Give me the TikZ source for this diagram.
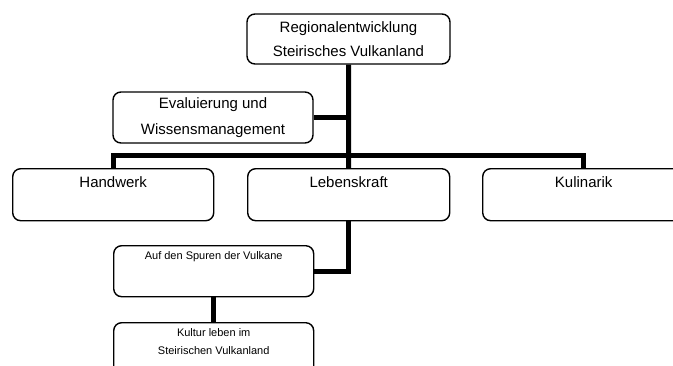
\documentclass[tikz,border=0pt]{standalone}
\usepackage{fontspec}
\setmainfont{Liberation Sans}
\begin{document}
\begin{tikzpicture}[x=1pt,y=-1pt,
  box/.style={draw, line width=1.4pt, rounded corners=8pt, fill=white, inner sep=0pt},
  bigfont/.style={font=\fontsize{15}{24}\selectfont},
  smallfont/.style={font=\fontsize{11}{18}\selectfont},
  rowbox/.style={box, anchor=north west, bigfont, text height=18.7pt, text depth=33.3pt},
  conn/.style={line width=5pt, black}]
\useasboundingbox (0,0) rectangle (673,365);
\clip (0,0) rectangle (673,365);
\node[box, minimum width=203pt, minimum height=50pt, align=center, font=\fontsize{15}{24}\selectfont] (top) at (348.5,39) {Regionalentwicklung\\Steirisches Vulkanland};
\node[box, minimum width=200pt, minimum height=51pt, align=center, font=\fontsize{15}{26}\selectfont] (eval) at (213,117.5) {Evaluierung und\\Wissensmanagement};
\node[rowbox, minimum width=201pt] (hand) at (12,168) {Handwerk};
\node[rowbox, minimum width=202pt] (leb) at (247,168) {Lebenskraft};
\node[rowbox, minimum width=202pt] (kul) at (482,168) {Kulinarik};
\node[box, anchor=north west, smallfont, minimum width=200pt, text height=13.3pt, text depth=37.7pt] (auf) at (113,245) {Auf den Spuren der Vulkane};
\node[box, anchor=north west, smallfont, minimum width=200pt, text height=14pt, text depth=50pt] (kult) at (113,322) {\begin{tabular}[t]{@{}c@{}}Kultur leben im\\Steirischen Vulkanland\end{tabular}};
\coordinate (bar) at (348.5,155.5);
\draw[conn] (top.south) -- (leb.north);
\draw[conn] (eval.east) -- (eval.east -| top.south);
\draw[conn] (hand.north) |- (bar) -| (kul.north);
\draw[conn] (leb.south) |- (auf.east);
\draw[conn] (auf.south) -- (kult.north);
\end{tikzpicture}
\end{document}
